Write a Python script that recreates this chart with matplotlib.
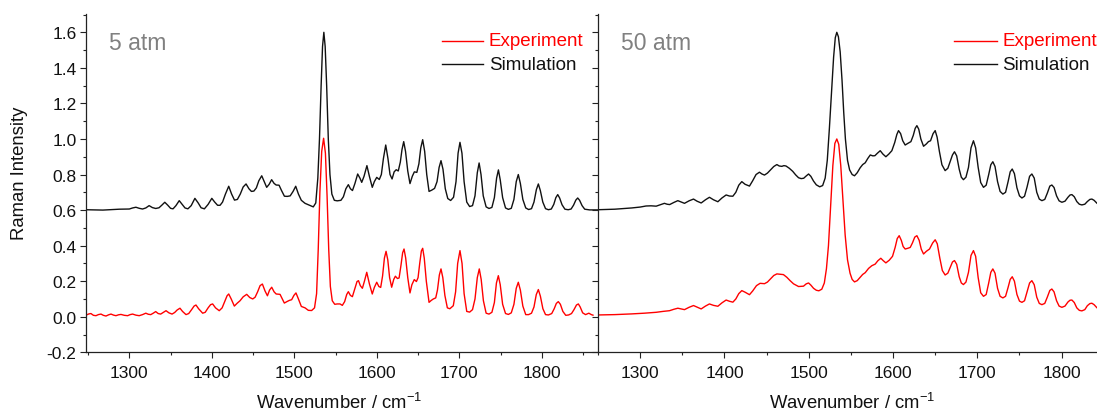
import matplotlib
matplotlib.use("Agg")
import matplotlib.pyplot as plt
from matplotlib.ticker import MultipleLocator, FuncFormatter

plt.rcParams['font.family'] = ['Liberation Sans', 'DejaVu Sans']
plt.rcParams['mathtext.fontset'] = 'custom'
plt.rcParams['mathtext.rm'] = 'Liberation Sans'
plt.rcParams['mathtext.it'] = 'Liberation Sans'
plt.rcParams['axes.unicode_minus'] = False

# ---------------- data: (wavenumber, intensity) ----------------
# 5 atm, experiment
exp5_pts = [
    (1248, 0.010), (1251, 0.016), (1253.5, 0.018), (1256.5, 0.008), (1259.6, 0.006), (1262.5, 0.012),
    (1265.7, 0.015), (1268.5, 0.008), (1271.7, 0.004), (1275, 0.011), (1277.8, 0.015), (1281, 0.009),
    (1283.8, 0.006), (1287, 0.011), (1289.9, 0.013), (1294, 0.008), (1298, 0.006), (1301, 0.012),
    (1304, 0.015), (1308, 0.009), (1312, 0.006), (1316, 0.012), (1320, 0.020), (1323, 0.014),
    (1326, 0.012), (1329, 0.020), (1332, 0.029), (1335, 0.018), (1338, 0.015), (1341, 0.024),
    (1344.5, 0.034), (1348, 0.022), (1351.8, 0.015), (1355, 0.024), (1358, 0.038), (1361.4, 0.048),
    (1364.5, 0.030), (1368.7, 0.012), (1372, 0.018), (1375.5, 0.040), (1378.5, 0.060), (1380.8, 0.066),
    (1384, 0.045), (1388.9, 0.020), (1392, 0.025), (1395.5, 0.050), (1398.5, 0.068), (1401, 0.072),
    (1404.5, 0.050), (1409, 0.034), (1412.5, 0.050), (1416, 0.090), (1418.5, 0.118), (1420.5, 0.128),
    (1423.5, 0.100), (1427.3, 0.060), (1430.5, 0.075), (1434.2, 0.090), (1438, 0.112), (1442.3, 0.126),
    (1446, 0.108), (1449.6, 0.100), (1452.5, 0.110), (1455.5, 0.140), (1458.5, 0.175), (1461.3, 0.184),
    (1464.5, 0.145), (1467.4, 0.118), (1470, 0.150), (1472.6, 0.166), (1475.5, 0.140), (1478, 0.128),
    (1482.7, 0.126), (1485.5, 0.100), (1487.9, 0.077), (1491, 0.085), (1494, 0.092), (1496.8, 0.096),
    (1499.5, 0.120), (1502, 0.134), (1505, 0.100), (1508.5, 0.058), (1513, 0.050), (1517, 0.036),
    (1521, 0.035), (1524.5, 0.050), (1527, 0.130), (1529, 0.380), (1531, 0.700), (1533.2, 0.930),
    (1535.5, 1.004), (1537.7, 0.920), (1539.7, 0.680), (1541.7, 0.380), (1543.7, 0.170), (1546, 0.090),
    (1549, 0.070), (1552, 0.072), (1555.4, 0.072), (1558.2, 0.064), (1561, 0.085), (1563.5, 0.125),
    (1565.5, 0.141), (1568, 0.120), (1570.4, 0.113), (1573.5, 0.160), (1576, 0.198), (1577.8, 0.203),
    (1580, 0.175), (1582.5, 0.160), (1585, 0.200), (1587.8, 0.250), (1591, 0.185), (1594.5, 0.128),
    (1597, 0.165), (1599.9, 0.194), (1602.5, 0.170), (1604.7, 0.165), (1607, 0.230), (1609.2, 0.330),
    (1611.2, 0.368), (1613.3, 0.320), (1615.5, 0.220), (1618, 0.166), (1620.5, 0.210), (1622.5, 0.228),
    (1625, 0.215), (1627, 0.218), (1629.3, 0.290), (1631.3, 0.360), (1633, 0.381), (1635, 0.330),
    (1637.5, 0.220), (1640.2, 0.134), (1642.5, 0.180), (1645.4, 0.209), (1648, 0.198), (1650, 0.220),
    (1652, 0.300), (1654, 0.370), (1655.6, 0.385), (1657.5, 0.330), (1660, 0.200), (1663.3, 0.081),
    (1666, 0.092), (1668.5, 0.100), (1671.4, 0.106), (1673.5, 0.150), (1675.8, 0.235), (1677.8, 0.269),
    (1680, 0.220), (1682.5, 0.120), (1685.5, 0.050), (1688.5, 0.045), (1692.7, 0.062), (1695.5, 0.140),
    (1698, 0.300), (1700.8, 0.372), (1703.3, 0.300), (1705.8, 0.130), (1709, 0.030), (1712.5, 0.026),
    (1716, 0.040), (1719, 0.100), (1721.8, 0.220), (1724.2, 0.269), (1726.5, 0.210), (1729.2, 0.090),
    (1732.5, 0.020), (1736, 0.015), (1739.5, 0.025), (1742.5, 0.080), (1745, 0.190), (1747.3, 0.231),
    (1749.6, 0.180), (1752.5, 0.070), (1756, 0.018), (1759.5, 0.013), (1763, 0.022), (1766.2, 0.070),
    (1769, 0.160), (1771.5, 0.194), (1774, 0.150), (1777, 0.060), (1780.5, 0.012), (1784, 0.012),
    (1787.5, 0.020), (1790.5, 0.055), (1793.3, 0.125), (1795.8, 0.153), (1798.3, 0.115), (1801.3, 0.045),
    (1804.5, 0.012), (1808, 0.010), (1812, 0.018), (1815, 0.045), (1817.6, 0.075), (1820, 0.085),
    (1822.5, 0.070), (1825.5, 0.030), (1829, 0.008), (1832.5, 0.010), (1836, 0.018), (1839, 0.040),
    (1842, 0.066), (1844.3, 0.072), (1846.5, 0.055), (1849.5, 0.022), (1853, 0.012), (1857, 0.020),
    (1860, 0.012), (1862, 0.009),
]

# 5 atm, simulation
sim5_pts = [
    (1247.5, 0.602), (1268, 0.600), (1288, 0.605), (1300, 0.606), (1304, 0.612), (1308, 0.616),
    (1312, 0.610), (1316, 0.606), (1320, 0.612), (1324, 0.625), (1328, 0.614), (1332, 0.609),
    (1336, 0.613), (1339.5, 0.628), (1343, 0.644), (1346.5, 0.628), (1350, 0.610), (1353, 0.607),
    (1356.5, 0.625), (1360.5, 0.653), (1364, 0.632), (1367.5, 0.612), (1371, 0.607), (1375, 0.625),
    (1379.5, 0.666), (1383.5, 0.640), (1387, 0.613), (1391, 0.607), (1395.5, 0.632), (1400, 0.666),
    (1403.5, 0.645), (1407, 0.627), (1410, 0.627), (1413, 0.645), (1416.5, 0.690), (1420.5, 0.734),
    (1424, 0.690), (1427.5, 0.656), (1431, 0.660), (1434.5, 0.690), (1438, 0.730), (1441.5, 0.747),
    (1445, 0.720), (1448, 0.705), (1451, 0.707), (1454, 0.725), (1457, 0.765), (1460.5, 0.793),
    (1463.5, 0.760), (1466.5, 0.728), (1469.5, 0.745), (1472.5, 0.771), (1475.5, 0.750), (1478, 0.741),
    (1481.5, 0.740), (1484.5, 0.710), (1488, 0.678), (1491.5, 0.677), (1495, 0.680), (1498.5, 0.705),
    (1501.7, 0.734), (1505, 0.690), (1508.5, 0.655), (1513, 0.638), (1518, 0.628), (1523, 0.618),
    (1526, 0.640), (1528.5, 0.780), (1530.5, 1.000), (1532.5, 1.300), (1534.2, 1.520), (1535.8, 1.600),
    (1537.4, 1.520), (1539.2, 1.300), (1541.2, 1.000), (1543.2, 0.800), (1545.5, 0.690), (1548.5, 0.655),
    (1552, 0.652), (1556.5, 0.655), (1559.5, 0.675), (1562.5, 0.720), (1565.5, 0.743), (1568, 0.720),
    (1570.5, 0.710), (1573.5, 0.750), (1576.8, 0.803), (1579.5, 0.780), (1581.7, 0.756), (1584.5, 0.790),
    (1588, 0.850), (1591, 0.790), (1594.5, 0.728), (1597, 0.760), (1599.9, 0.784), (1603, 0.772),
    (1605.5, 0.800), (1608, 0.890), (1610.8, 0.966), (1613.5, 0.890), (1616, 0.800), (1618.5, 0.775),
    (1621, 0.815), (1623.5, 0.827), (1626, 0.820), (1628.5, 0.870), (1630.5, 0.940), (1632.6, 0.985),
    (1634.8, 0.930), (1637.5, 0.820), (1640.2, 0.749), (1643, 0.790), (1645.5, 0.815), (1648.5, 0.812),
    (1651, 0.860), (1653.3, 0.950), (1655.6, 0.996), (1658, 0.930), (1660.5, 0.800), (1663.3, 0.705),
    (1666.5, 0.712), (1670, 0.722), (1673, 0.760), (1675.5, 0.840), (1677.8, 0.878), (1680.2, 0.830),
    (1683, 0.720), (1686, 0.665), (1689.5, 0.654), (1693, 0.672), (1696, 0.760), (1698.5, 0.920),
    (1700.8, 0.981), (1703.2, 0.920), (1705.8, 0.760), (1709, 0.645), (1712.5, 0.620), (1716, 0.625),
    (1719, 0.680), (1721.8, 0.810), (1724, 0.865), (1726.3, 0.800), (1729, 0.680), (1732.5, 0.618),
    (1736, 0.609), (1739.5, 0.615), (1742.5, 0.670), (1745.2, 0.780), (1747.4, 0.826), (1749.6, 0.770),
    (1752.5, 0.670), (1756, 0.612), (1759.5, 0.604), (1763, 0.610), (1766.2, 0.660), (1769, 0.760),
    (1771.5, 0.800), (1774, 0.750), (1777, 0.660), (1780.5, 0.612), (1784, 0.603), (1787.5, 0.608),
    (1790.5, 0.645), (1793.4, 0.715), (1795.8, 0.747), (1798.2, 0.710), (1801.2, 0.645), (1804.5, 0.608),
    (1808, 0.602), (1811.5, 0.606), (1814.5, 0.632), (1817, 0.670), (1819.3, 0.687), (1821.6, 0.668),
    (1824.5, 0.630), (1828, 0.605), (1832, 0.602), (1835.5, 0.606), (1838.5, 0.628), (1841.2, 0.656),
    (1843.5, 0.668), (1845.8, 0.655), (1848.8, 0.625), (1852, 0.605), (1858, 0.601), (1868, 0.601),
]

# 50 atm, experiment
exp50_pts = [
    (1250, 0.010), (1270, 0.012), (1290, 0.016), (1305, 0.020), (1319, 0.025), (1327, 0.030),
    (1334.8, 0.034), (1340, 0.042), (1344.7, 0.048), (1348.5, 0.044), (1352.6, 0.040), (1358, 0.053),
    (1363.3, 0.063), (1367.5, 0.054), (1372.4, 0.044), (1377.5, 0.060), (1382.2, 0.072), (1387, 0.064),
    (1392.2, 0.059), (1397, 0.078), (1402, 0.094), (1406, 0.087), (1410, 0.082), (1413.5, 0.100),
    (1417, 0.130), (1420.6, 0.147), (1424.5, 0.138), (1429.7, 0.124), (1433.5, 0.145), (1438, 0.175),
    (1442.3, 0.188), (1447.5, 0.186), (1451, 0.195), (1454.5, 0.212), (1458.5, 0.232), (1462.2, 0.241),
    (1466, 0.239), (1470, 0.237), (1474, 0.222), (1477.9, 0.203), (1482, 0.185), (1487.9, 0.170),
    (1493.8, 0.172), (1497, 0.185), (1499.8, 0.190), (1502.5, 0.178), (1505.7, 0.160), (1509, 0.149),
    (1512, 0.146), (1515.5, 0.155), (1518.5, 0.190), (1521, 0.270), (1523.4, 0.400), (1526, 0.630),
    (1528.6, 0.850), (1531, 0.975), (1533.3, 1.000), (1535.6, 0.970), (1538, 0.850), (1540.5, 0.660),
    (1543.2, 0.460), (1546, 0.320), (1549, 0.245), (1551.5, 0.210), (1554.3, 0.196), (1557.5, 0.203),
    (1561, 0.222), (1564, 0.238), (1567, 0.248), (1571, 0.272), (1574.8, 0.287), (1578.8, 0.296),
    (1582, 0.315), (1585.5, 0.329), (1588.5, 0.315), (1591.5, 0.303), (1595.5, 0.318), (1599.4, 0.340),
    (1602.5, 0.390), (1605, 0.440), (1607.3, 0.456), (1609.8, 0.430), (1612, 0.395), (1614.4, 0.381),
    (1617.5, 0.385), (1620.4, 0.390), (1623, 0.415), (1625.8, 0.448), (1628.3, 0.456), (1631, 0.430),
    (1633.5, 0.380), (1636.2, 0.353), (1639.5, 0.368), (1643.3, 0.381), (1647, 0.415), (1650, 0.433),
    (1652.5, 0.410), (1655.5, 0.330), (1658.5, 0.260), (1661.8, 0.235), (1665, 0.245), (1668, 0.280),
    (1670.5, 0.308), (1672.9, 0.316), (1675.5, 0.295), (1678.5, 0.225), (1681, 0.190), (1683.5, 0.181),
    (1686.5, 0.195), (1689.5, 0.250), (1692.5, 0.345), (1695.4, 0.372), (1698, 0.340), (1701, 0.220),
    (1704, 0.135), (1707.3, 0.115), (1710.5, 0.125), (1713.5, 0.190), (1716, 0.250), (1718.4, 0.269),
    (1721, 0.245), (1724, 0.160), (1727, 0.115), (1730.3, 0.106), (1733.5, 0.115), (1736.5, 0.165),
    (1739, 0.210), (1741.4, 0.225), (1744, 0.200), (1747, 0.125), (1750, 0.088), (1752.9, 0.081),
    (1756, 0.090), (1759, 0.140), (1762, 0.190), (1764.7, 0.203), (1767.5, 0.180), (1770.5, 0.110),
    (1773.5, 0.075), (1776.6, 0.068), (1780, 0.075), (1783, 0.110), (1786, 0.148), (1788.4, 0.156),
    (1791, 0.140), (1794, 0.090), (1797, 0.060), (1800.3, 0.053), (1804, 0.060), (1807.5, 0.083),
    (1810, 0.093), (1812.2, 0.094), (1815, 0.080), (1818, 0.050), (1821, 0.036), (1824, 0.033),
    (1827.5, 0.040), (1830.5, 0.062), (1833.5, 0.074), (1835.9, 0.076), (1838.5, 0.068), (1842, 0.050),
    (1846, 0.040), (1850, 0.040),
]

# 50 atm, simulation
sim50_pts = [
    (1250, 0.602), (1270, 0.605), (1290, 0.612), (1300, 0.617), (1307, 0.623), (1313, 0.624),
    (1319, 0.622), (1324, 0.630), (1328.8, 0.638), (1332, 0.633), (1335, 0.631), (1340, 0.643),
    (1344.7, 0.653), (1348.5, 0.646), (1352.6, 0.638), (1358, 0.652), (1363.3, 0.662), (1367.5, 0.650),
    (1372.4, 0.640), (1377.5, 0.658), (1382.2, 0.672), (1387, 0.658), (1392.2, 0.647), (1397, 0.668),
    (1402, 0.685), (1406, 0.679), (1410, 0.678), (1413.5, 0.700), (1417, 0.740), (1420.6, 0.760),
    (1424.5, 0.745), (1429.7, 0.735), (1433.5, 0.765), (1437.5, 0.800), (1441.5, 0.813), (1444.5, 0.803),
    (1447.5, 0.797), (1451, 0.808), (1454.5, 0.825), (1458.5, 0.845), (1462.2, 0.856), (1465, 0.848),
    (1468.1, 0.846), (1470.5, 0.850), (1473, 0.848), (1477, 0.835), (1481, 0.818), (1484.5, 0.798),
    (1487.9, 0.782), (1491, 0.777), (1494, 0.779), (1497, 0.792), (1499.8, 0.803), (1502.5, 0.790),
    (1505.7, 0.763), (1509, 0.742), (1513, 0.731), (1516.5, 0.738), (1519.5, 0.780), (1522, 0.880),
    (1524.5, 1.060), (1527, 1.260), (1529.5, 1.460), (1531.5, 1.570), (1533.3, 1.600), (1535.2, 1.575),
    (1537.3, 1.490), (1539.5, 1.330), (1541.5, 1.150), (1543.5, 1.000), (1546, 0.880), (1548.5, 0.826),
    (1551.5, 0.800), (1554.3, 0.793), (1557.5, 0.810), (1561, 0.838), (1564, 0.856), (1567, 0.866),
    (1570, 0.890), (1573, 0.910), (1576, 0.905), (1578.5, 0.906), (1581.5, 0.920), (1584.8, 0.934),
    (1588, 0.915), (1591.5, 0.900), (1595, 0.915), (1598.6, 0.934), (1602, 0.980), (1604.5, 1.025),
    (1606.5, 1.047), (1609, 1.030), (1611.5, 0.990), (1614.4, 0.966), (1617.5, 0.975), (1621.2, 0.985),
    (1624, 1.020), (1626.3, 1.060), (1628.3, 1.075), (1630.5, 1.055), (1633, 1.000), (1636.2, 0.959),
    (1639.5, 0.972), (1642, 0.985), (1644.5, 0.990), (1647.5, 1.030), (1650, 1.047), (1652.3, 1.010),
    (1655, 0.930), (1658, 0.855), (1661.8, 0.822), (1665, 0.835), (1668, 0.875), (1670.5, 0.910),
    (1672.9, 0.928), (1675.5, 0.905), (1678.5, 0.830), (1681, 0.785), (1683.5, 0.771), (1686.5, 0.785),
    (1689.5, 0.840), (1692.5, 0.950), (1695.4, 0.990), (1698, 0.950), (1701, 0.840), (1704, 0.755),
    (1707.3, 0.728), (1710.5, 0.740), (1713.5, 0.800), (1716, 0.855), (1718.4, 0.872), (1721, 0.845),
    (1724, 0.760), (1727, 0.705), (1730.3, 0.690), (1733.5, 0.700), (1736.5, 0.760), (1739, 0.815),
    (1741.4, 0.831), (1744, 0.805), (1747, 0.725), (1750, 0.680), (1752.9, 0.668), (1756, 0.678),
    (1759, 0.730), (1762, 0.790), (1764.7, 0.803), (1767.5, 0.780), (1770.5, 0.700), (1773.5, 0.662),
    (1776.6, 0.653), (1780, 0.660), (1783, 0.695), (1786, 0.735), (1788.4, 0.741), (1791, 0.727),
    (1794, 0.680), (1797, 0.652), (1800.3, 0.644), (1804, 0.650), (1807.5, 0.672), (1810, 0.685),
    (1812.2, 0.687), (1815, 0.675), (1818, 0.648), (1821, 0.633), (1824, 0.629), (1827.5, 0.633),
    (1830.5, 0.648), (1833.5, 0.660), (1835.9, 0.662), (1838.5, 0.655), (1842, 0.638), (1846, 0.628),
    (1850, 0.630),
]

panel_labels = ["5 atm", "50 atm"]
series_labels = ["Experiment", "Simulation"]

# ---------------- figure ----------------
W, H = 1097, 414
fig = plt.figure(figsize=(W / 100, H / 100), dpi=100)

def fx(px):
    return px / W

def fy(py):
    return (H - py) / H

ax_top, ax_bot = 15.0, 353.3
axL = fig.add_axes([fx(86), fy(ax_bot), (598 - 86) / W, (ax_bot - ax_top) / H])
axR = fig.add_axes([fx(598), fy(ax_bot), 514.2 / W, (ax_bot - ax_top) / H])

RED = '#ff0000'
BLK = '#111111'
SPINE = '#222222'

panels = [
    (axL, exp5_pts, sim5_pts, (1247.5, 1868.1), panel_labels[0]),
    (axR, exp50_pts, sim50_pts, (1250, 1860), panel_labels[1]),
]

for i, (ax, epts, spts, xl, lab) in enumerate(panels):
    ex, ey = zip(*epts)
    sx, sy = zip(*spts)
    ax.plot(ex, ey, color=RED, lw=1.0, solid_joinstyle='round')
    ax.plot(sx, sy, color=BLK, lw=1.0, solid_joinstyle='round')
    ax.set_xlim(*xl)
    ax.set_ylim(-0.2, 1.703)
    ax.xaxis.set_major_locator(MultipleLocator(100))
    ax.xaxis.set_minor_locator(MultipleLocator(50))
    ax.yaxis.set_major_locator(MultipleLocator(0.2))
    ax.yaxis.set_minor_locator(MultipleLocator(0.1))
    ax.yaxis.set_major_formatter(FuncFormatter(lambda v, p: f"{v:.1f}" if abs(v) > 1e-9 else "0.0"))
    for s in ['top', 'right']:
        ax.spines[s].set_visible(False)
    for s in ['left', 'bottom']:
        ax.spines[s].set_color(SPINE)
        ax.spines[s].set_linewidth(0.9)
    ax.tick_params(which='major', direction='out', length=4.3, width=0.8, color=SPINE,
                   labelsize=12.5, labelcolor='#111111')
    ax.tick_params(which='minor', direction='out', length=2.3, width=0.8, color=SPINE)
    ax.tick_params(axis='x', which='major', pad=5)
    ax.tick_params(axis='y', which='major', pad=2.5)
    ax.patch.set_alpha(0)

    # panel label
    ax.text(0.0445, 0.8966, lab, transform=ax.transAxes, fontsize=16.5, color='#808080',
            ha='left', va='baseline')

    # legend drawn as lines + text
    if i == 0:
        lx0, lx1, tx = (442 - 86) / 512, (483 - 86) / 512, (489 - 86) / 512
    else:
        lx0, lx1, tx = (954 - 598) / 514.2, (997 - 598) / 514.2, (1002 - 598) / 514.2
    for (yy_px, col, txt) in [(42, RED, series_labels[0]), (65, BLK, series_labels[1])]:
        yy = (ax_bot - yy_px) / (ax_bot - ax_top)
        ax.plot([lx0, lx1], [yy, yy], color=col, lw=1.0, transform=ax.transAxes, clip_on=False)
        ax.text(tx, yy, txt, transform=ax.transAxes, fontsize=13.5, color=col,
                ha='left', va='center', clip_on=False)

axR.tick_params(axis='y', labelleft=False)

# axis labels
fig.text(fx(20), fy(173), "Raman Intensity", rotation=90, fontsize=13.3,
         ha='center', va='center', color='#111111')
for cx in (339, 852):
    fig.text(fx(cx), fy(409.5), "Wavenumber / cm$^{-1}$", fontsize=13.3,
             ha='center', va='baseline', color='#111111')

fig.savefig("out.png", dpi=100)
